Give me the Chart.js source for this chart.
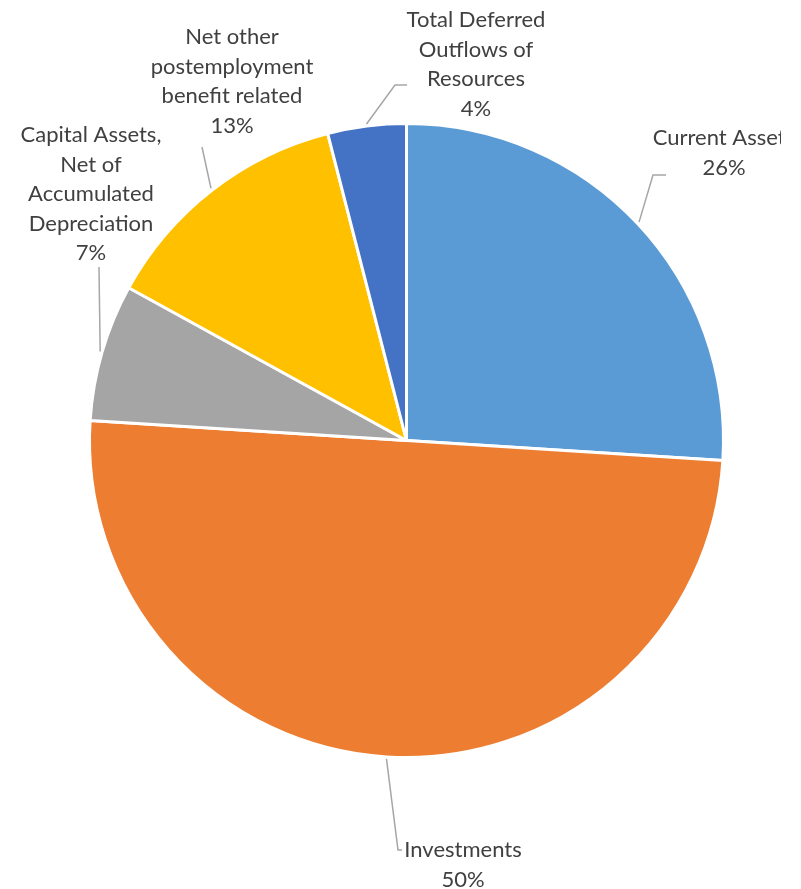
<!DOCTYPE html>
<html>
<head>
<meta charset="utf-8">
<script src="https://cdn.jsdelivr.net/npm/chart.js@4/dist/chart.umd.min.js"></script>
<style>
  body { margin: 0; background: #fff; }
  canvas { display: block; }
</style>
</head>
<body>
<canvas id="pie" width="801" height="889"></canvas>
<script>
// Slice names (already wrapped the way they are printed) and their shares
const categories = [
  ["Current Assets"],
  ["Investments"],
  ["Capital Assets,", "Net of", "Accumulated", "Depreciation"],
  ["Net other", "postemployment", "benefit related"],
  ["Total Deferred", "Outflows of", "Resources"]
];
const shares = [26, 50, 7, 13, 4];
const colors = ["#5B9BD5", "#ED7D31", "#A5A5A5", "#FFC000", "#4472C4"];

// where each label sits and how its leader line bends
const labelLayout = [
  { x: 724, y: 138, bend: [[653, 175], [666, 175]] },
  { x: 463, y: 850, bend: [[398, 850], [402, 850]] },
  { x: 91, y: 135, bend: [[99, 267]] },
  { x: 232, y: 37, bend: [[202, 147]] },
  { x: 476, y: 20, bend: [[395, 85], [407, 85]] }
];

const outsideLabels = {
  id: "outsideLabels",
  afterDatasetsDraw(chart) {
    const ctx = chart.ctx;
    const arcs = chart.getDatasetMeta(0).data;
    const data = chart.data.datasets[0].data;
    const total = data.reduce((a, b) => a + b, 0);

    ctx.save();
    ctx.beginPath();
    ctx.rect(0, 0, 781, chart.height);
    ctx.clip();

    arcs.forEach((arc, i) => {
      const p = arc.getProps(["x", "y", "startAngle", "endAngle", "outerRadius"], true);
      const mid = (p.startAngle + p.endAngle) / 2;
      const r = p.outerRadius + 2;
      const lay = labelLayout[i];

      // leader line
      ctx.strokeStyle = "#A6A6A6";
      ctx.lineWidth = 1.5;
      ctx.beginPath();
      ctx.moveTo(p.x + Math.cos(mid) * r, p.y + Math.sin(mid) * r);
      lay.bend.forEach(([bx, by]) => ctx.lineTo(bx, by));
      ctx.stroke();

      // label text
      const lines = chart.data.labels[i].concat(Math.round(data[i] / total * 100) + "%");
      ctx.fillStyle = "#404040";
      ctx.font = "22px Lato, 'Open Sans', sans-serif";
      ctx.textAlign = "center";
      ctx.textBaseline = "middle";
      lines.forEach((t, k) => ctx.fillText(t, lay.x, lay.y + k * 29.5));
    });
    ctx.restore();
  }
};

new Chart(document.getElementById("pie"), {
  type: "pie",
  data: {
    labels: categories,
    datasets: [{
      data: shares,
      backgroundColor: colors,
      borderColor: "#ffffff",
      borderWidth: 3
    }]
  },
  options: {
    responsive: false,
    animation: false,
    layout: { padding: { left: 88, top: 122, right: 76, bottom: 130 } },
    plugins: {
      legend: { display: false },
      tooltip: { enabled: false }
    }
  },
  plugins: [outsideLabels]
});
</script>
</body>
</html>
